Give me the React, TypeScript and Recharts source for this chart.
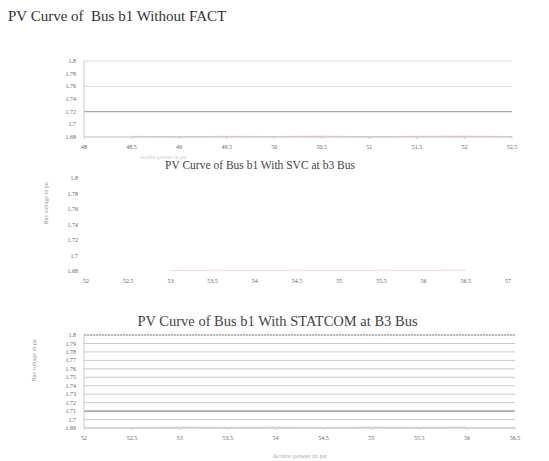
import { LineChart, Line, XAxis, YAxis, CartesianGrid, ReferenceLine } from 'recharts'

// chart 1 - without FACTS
const p1 = [48.5, 49, 49.5, 50, 50.5, 51, 51.5, 52, 52.5]
const v1 = [1.681, 1.6805, 1.681, 1.6808, 1.6812, 1.6806, 1.681, 1.6812, 1.6808]
const xTicks1 = [48, 48.5, 49, 49.5, 50, 50.5, 51, 51.5, 52, 52.5]
const yTicks1 = [1.68, 1.7, 1.72, 1.74, 1.76, 1.78, 1.8]

// chart 2 - SVC at b3
const p2 = [53, 53.5, 54, 54.5, 55, 55.5, 56, 56.5]
const v2 = [1.6805, 1.681, 1.6808, 1.681, 1.6806, 1.681, 1.6808, 1.6812]
const xTicks2 = [52, 52.5, 53, 53.5, 54, 54.5, 55, 55.5, 56, 56.5, 57]
const yTicks2 = [1.68, 1.7, 1.72, 1.74, 1.76, 1.78, 1.8]

// chart 3 - STATCOM at B3
const p3 = [52.5, 53, 53.5, 54, 54.5, 55, 55.5, 56]
const v3 = [1.6905, 1.691, 1.6908, 1.691, 1.6906, 1.691, 1.6908, 1.691]
const xTicks3 = [52, 52.5, 53, 53.5, 54, 54.5, 55, 55.5, 56, 56.5]
const yTicks3 = [1.69, 1.7, 1.71, 1.72, 1.73, 1.74, 1.75, 1.76, 1.77, 1.78, 1.79, 1.8]

const serif = '"Liberation Serif", "Times New Roman", "DejaVu Serif", serif'
const tick = { fill: '#666', fontSize: 6, fontFamily: serif }
const xTick = { ...tick, dy: 4 }
const fmt = (n: number) => String(Number(n.toFixed(2)))

const rows = (p: number[], v: number[]) => p.map((x, i) => ({ p: x, v: v[i] }))

export default function App() {
  return (
    <div style={{ position: 'absolute', left: 0, top: 0, width: 549, height: 461, background: '#fff', fontFamily: serif }}>
      <div style={{ position: 'absolute', left: 8, top: 8, fontSize: 15, color: '#333', whiteSpace: 'pre', fontFamily: serif }}>
        PV Curve of  Bus b1 Without FACT
      </div>

      <div style={{ position: 'absolute', left: 0, top: 50 }}>
        <LineChart width={549} height={124} data={rows(p1, v1)} margin={{ top: 11, right: 37, bottom: 13, left: 40 }}>
          <CartesianGrid horizontal vertical={false} stroke="#ddd" />
          <XAxis dataKey="p" type="number" domain={[48, 52.5]} ticks={xTicks1} tick={xTick} tickFormatter={fmt}
            stroke="#ccc" tickSize={2} height={24} />
          <YAxis type="number" domain={[1.68, 1.8]} ticks={yTicks1} tick={tick} tickFormatter={fmt}
            stroke="#ccc" tickLine={false} width={44} />
          <ReferenceLine y={1.72} stroke="#999" />
          <Line dataKey="v" stroke="#f0b8b8" strokeWidth={1} dot={false} isAnimationActive={false} />
        </LineChart>
      </div>
      <div style={{ position: 'absolute', left: 140, top: 154, fontSize: 6, lineHeight: '7px', color: '#ccc' }}>
        Active power in pu
      </div>

      <div style={{ position: 'absolute', left: 0, top: 159, width: 520, textAlign: 'center', fontSize: 11.5, lineHeight: '13px', color: '#444', fontFamily: serif }}>
        PV Curve of Bus b1 With SVC at b3 Bus
      </div>
      <div style={{ position: 'absolute', left: 0, top: 167 }}>
        <LineChart width={549} height={135} data={rows(p2, v2)} margin={{ top: 11, right: 41, bottom: 11, left: 42 }}>
          <XAxis dataKey="p" type="number" domain={[52, 57]} ticks={xTicks2} tick={tick} tickFormatter={fmt}
            axisLine={false} tickLine={false} height={20} />
          <YAxis type="number" domain={[1.68, 1.8]} ticks={yTicks2} tick={tick} tickFormatter={fmt}
            axisLine={false} tickLine={false} width={44}
            label={{ value: 'Bus voltage in pu', angle: -90, position: 'insideLeft', offset: 4, fill: '#999', fontSize: 6, fontFamily: serif }} />
          <Line dataKey="v" stroke="#f6d4d4" strokeWidth={1} dot={false} isAnimationActive={false} />
        </LineChart>
      </div>

      <div style={{ position: 'absolute', left: 0, top: 313, width: 555, textAlign: 'center', fontSize: 14.5, color: '#444', fontFamily: serif }}>
        PV Curve of Bus b1 With STATCOM at B3 Bus
      </div>
      <div style={{ position: 'absolute', left: 0, top: 324 }}>
        <LineChart width={549} height={137} data={rows(p3, v3)} margin={{ top: 11, right: 34, bottom: 9, left: 40 }}>
          <CartesianGrid horizontal vertical={false} stroke="#c8c8c8" />
          <XAxis dataKey="p" type="number" domain={[52, 56.5]} ticks={xTicks3} tick={xTick} tickFormatter={fmt}
            stroke="#ccc" tickSize={2} height={24}
            label={{ value: 'Active power in pu', position: 'insideBottom', offset: -6, fill: '#aaa', fontSize: 7, fontFamily: serif }} />
          <YAxis type="number" domain={[1.69, 1.8]} ticks={yTicks3} tick={tick} tickFormatter={fmt}
            stroke="#ccc" tickLine={false} width={44} interval={0}
            label={{ value: 'Bus voltage in pu', angle: -90, position: 'insideLeft', offset: -6, fill: '#999', fontSize: 6, fontFamily: serif }} />
          <ReferenceLine y={1.8} stroke="#999" strokeDasharray="2 1" />
          <ReferenceLine y={1.71} stroke="#888" />
          <Line dataKey="v" stroke="#f0c4c4" strokeWidth={1} dot={false} isAnimationActive={false} />
        </LineChart>
      </div>
    </div>
  )
}
